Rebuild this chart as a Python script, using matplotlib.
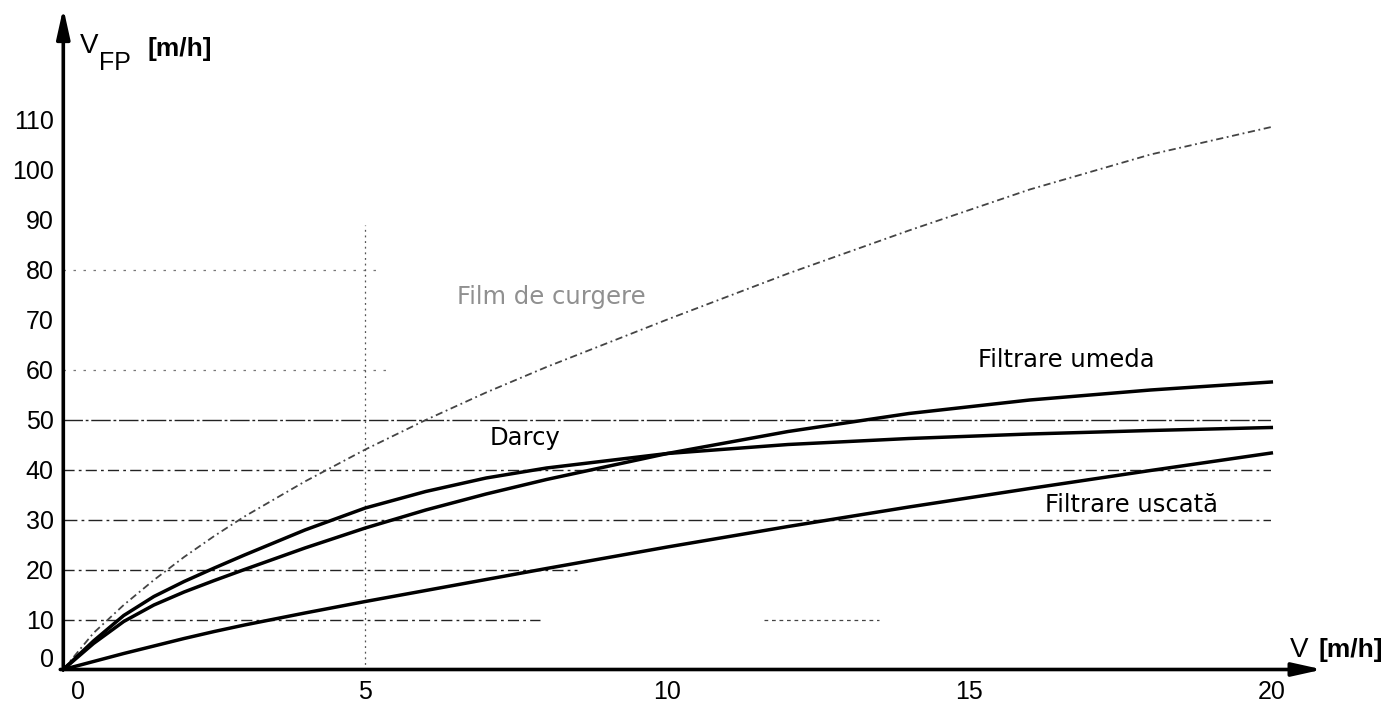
import matplotlib
matplotlib.use("Agg")
import matplotlib.pyplot as plt
from matplotlib.transforms import ScaledTranslation

plt.rcParams["font.family"] = ["Liberation Sans", "DejaVu Sans"]

# Filtration velocity V [m/h]
v = [0, 0.5, 1, 1.5, 2, 2.5, 3, 4, 5, 6, 7, 8, 10, 12, 14, 16, 18, 20]

# Velocity in the filter pores V_FP [m/h] for each regime
film_curgere = [0, 7.3, 12.9, 17.9, 22.5, 26.7, 30.6, 37.6, 44.0, 49.9, 55.4,
                60.5, 70.0, 79.2, 87.8, 96.0, 103.0, 108.5]
darcy = [0, 5.7, 10.8, 14.6, 17.6, 20.3, 22.9, 27.9, 32.3, 35.6, 38.3, 40.3,
         43.2, 45.0, 46.2, 47.1, 47.8, 48.4]
filtrare_umeda = [0, 5.2, 9.6, 12.9, 15.5, 17.8, 20.0, 24.3, 28.3, 31.9, 35.1,
                  38.0, 43.2, 47.6, 51.2, 53.9, 55.9, 57.5]
filtrare_uscata = [0, 1.6, 3.2, 4.7, 6.2, 7.6, 8.9, 11.3, 13.6, 15.8, 18.0,
                   20.2, 24.5, 28.6, 32.5, 36.2, 39.8, 43.3]

x_ticks = [0, 5, 10, 15, 20]
y_ticks = [0, 10, 20, 30, 40, 50, 60, 70, 80, 90, 100, 110]

fig = plt.figure(figsize=(13.97, 7.07), dpi=100)
ax = fig.add_axes([0.04531, 0.05304, 0.86471, 0.77793])
ax.set_xlim(0, 20)
ax.set_ylim(0, 110)
for s in ax.spines.values():
    s.set_visible(False)

# partial dash-dot reference lines
ax.hlines([50, 40, 30], 0, 20, colors="#222222", lw=1.0,
          linestyles=[(0, (14, 2, 2, 2)), (0, (8, 3, 2, 3)), (0, (10, 3, 2, 3))])
ax.hlines([20, 10], 0, [8.5, 7.9], colors="#222222", lw=1.0,
          linestyles=(0, (8, 3, 2, 3)))
ax.hlines(10, 11.6, 13.5, colors="#444444", lw=0.9, linestyles=(0, (3, 3)))
ax.hlines([60, 80], 0, [5.4, 5.3], colors="#777777", lw=0.9,
          linestyles=(0, (2, 6)))
ax.vlines(5, 0, 89, colors="#555555", lw=0.9, linestyles=(0, (1.5, 3)))

# curves
ax.plot(v, film_curgere, color="#444444", lw=1.3, ls=(0, (4, 2, 1, 2)),
        clip_on=False)
ax.plot(v, darcy, color="black", lw=2.5, clip_on=False)
ax.plot(v, filtrare_umeda, color="black", lw=2.5, clip_on=False)
ax.plot(v, filtrare_uscata, color="black", lw=2.5, clip_on=False)

# axes with arrow heads
arrow = dict(arrowstyle="-|>,head_length=0.9,head_width=0.2", lw=2.6,
             color="black", shrinkA=0, shrinkB=0, mutation_scale=20)
ax.annotate("", xy=(20.85, 0), xytext=(-0.05, 0), arrowprops=arrow,
            annotation_clip=False)
ax.annotate("", xy=(0, 132.3), xytext=(0, 0), arrowprops=arrow,
            annotation_clip=False)

ax.set_xticks(x_ticks)
ax.set_xticklabels([str(t) for t in x_ticks])
ax.set_yticks(y_ticks)
ax.set_yticklabels([str(t) for t in y_ticks])
ax.tick_params(axis="x", length=0, pad=7.5, labelsize=18)
ax.tick_params(axis="y", length=0, pad=7, labelsize=18)

# shift the two zero labels away from the corner
xt0 = ax.xaxis.get_major_ticks()[0].label1
xt0.set_transform(xt0.get_transform() + ScaledTranslation(0.15, 0, fig.dpi_scale_trans))
yt0 = ax.yaxis.get_major_ticks()[0].label1
yt0.set_transform(yt0.get_transform() + ScaledTranslation(0, 0.125, fig.dpi_scale_trans))

# axis titles
ax.text(0.28, 123.3, "V", fontsize=20, va="baseline", ha="left", clip_on=False)
ax.text(0.59, 119.9, "FP", fontsize=18, va="baseline", ha="left", clip_on=False)
ax.text(1.40, 122.7, "[m/h]", fontsize=19, fontweight="bold", va="baseline",
        ha="left", clip_on=False)
ax.text(20.31, 2.56, "V", fontsize=20, va="baseline", ha="left", clip_on=False)
ax.text(20.78, 2.56, "[m/h]", fontsize=19, fontweight="bold", va="baseline",
        ha="left", clip_on=False)

# curve labels
lab = dict(fontsize=17.5, family="DejaVu Sans", va="baseline", ha="left")
ax.text(6.51, 73.1, "Film de curgere", color="#909090", **lab)
ax.text(7.06, 44.9, "Darcy", color="black", **lab)
ax.text(15.14, 60.5, "Filtrare umeda", color="black", **lab)
ax.text(16.25, 31.6, "Filtrare uscată", color="black", **lab)

fig.savefig("out.png", dpi=100)
